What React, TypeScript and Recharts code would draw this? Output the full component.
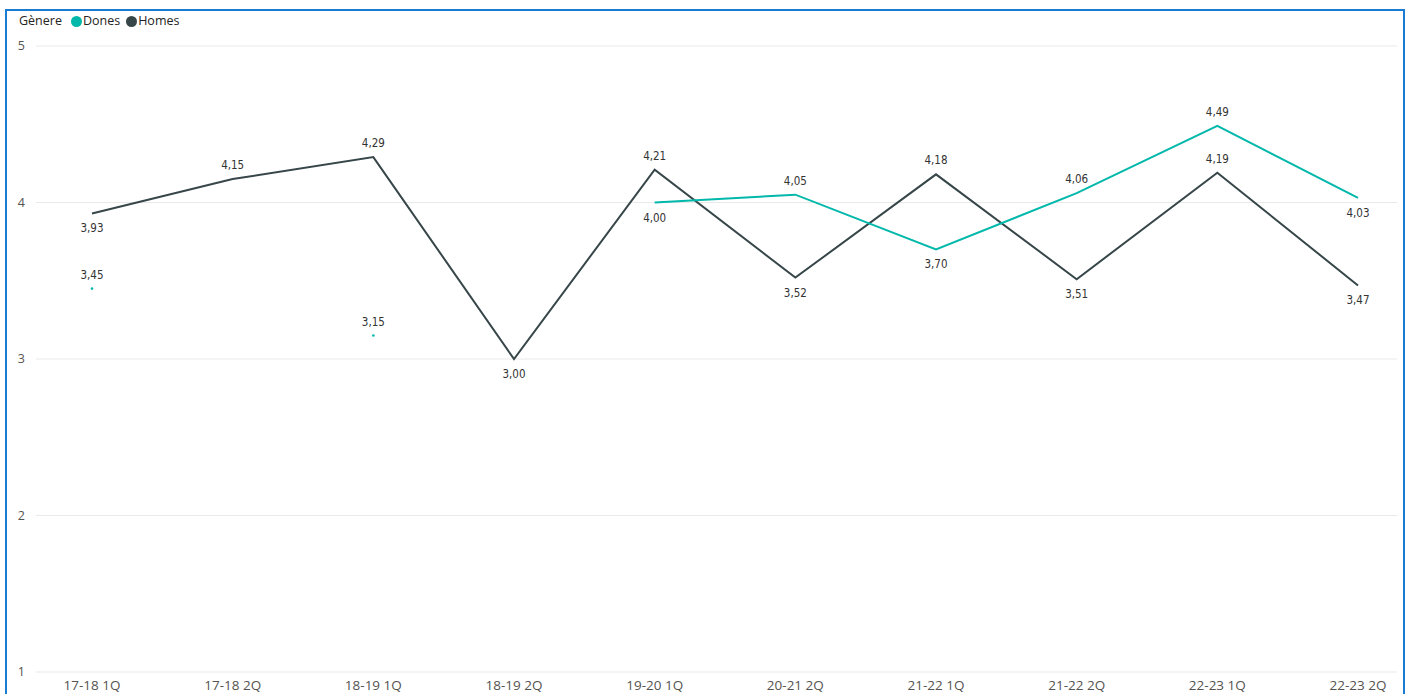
import React from 'react';
import { LineChart, Line, XAxis, YAxis, CartesianGrid } from 'recharts';

const periods = [
  '17-18 1Q',
  '17-18 2Q',
  '18-19 1Q',
  '18-19 2Q',
  '19-20 1Q',
  '20-21 2Q',
  '21-22 1Q',
  '21-22 2Q',
  '22-23 1Q',
  '22-23 2Q',
];
const dones: (number | null)[] = [3.45, null, 3.15, null, 4.0, 4.05, 3.7, 4.06, 4.49, 4.03];
const homes: (number | null)[] = [3.93, 4.15, 4.29, 3.0, 4.21, 3.52, 4.18, 3.51, 4.19, 3.47];
const yTicks = [1, 2, 3, 4, 5];

const DONES_COLOR = '#01B8AA';
const HOMES_COLOR = '#374649';
const UI_FONT = "'Open Sans', 'Noto Sans', sans-serif";
const LABEL_FONT = "'DejaVu Sans Condensed', 'Roboto', sans-serif";

const chartData = periods.map((p, i) => ({ period: p, Dones: dones[i], Homes: homes[i] }));

const fmt = (v: number) => v.toFixed(2).replace('.', ',');

// label goes under the point when it is a local low, otherwise above it
function labelBelow(values: (number | null)[], i: number) {
  const v = values[i] as number;
  const nb = [values[i - 1], values[i + 1]].filter((n) => n != null) as number[];
  return nb.length > 0 && nb.every((n) => v < n);
}

function makeLabel(values: (number | null)[]) {
  return (props: any) => {
    const { x, y, index, value } = props;
    if (value == null) return null;
    const below = labelBelow(values, index);
    return (
      <text
        key={`lbl-${index}`}
        x={x}
        y={below ? y + 15 : y - 14}
        textAnchor="middle"
        dominantBaseline="central"
        fontFamily={LABEL_FONT}
        fontSize={11.5}
        fill="#333333"
      >
        {fmt(Number(value))}
      </text>
    );
  };
}

// isolated values (no neighbours) show as a tiny dot, like the original
function makeDot(values: (number | null)[], color: string) {
  return (props: any) => {
    const { cx, cy, index } = props;
    const v = values[index];
    const isolated = v != null && values[index - 1] == null && values[index + 1] == null;
    if (!isolated || cx == null || cy == null) return <g key={`dot-${index}`} />;
    return <circle key={`dot-${index}`} cx={cx} cy={cy} r={1.3} fill={color} />;
  };
}

function LegendBox() {
  const item = (color: string, text: string) => (
    <span style={{ display: 'inline-flex', alignItems: 'center', marginLeft: 6 }}>
      <span
        style={{
          width: 11,
          height: 11,
          borderRadius: '50%',
          background: color,
          display: 'inline-block',
          marginRight: 1,
        }}
      />
      {text}
    </span>
  );
  return (
    <div
      style={{
        position: 'absolute',
        left: 19,
        top: 12,
        fontFamily: UI_FONT,
        fontSize: 12.5,
        color: '#252423',
        display: 'flex',
        alignItems: 'center',
        lineHeight: '18px',
      }}
    >
      <span style={{ marginRight: 3 }}>Gènere</span>
      {item(DONES_COLOR, 'Dones')}
      {item(HOMES_COLOR, 'Homes')}
    </div>
  );
}

export default function App() {
  return (
    <div
      style={{
        position: 'fixed',
        left: 0,
        top: 0,
        width: 1408,
        height: 694,
        background: '#fff',
        overflow: 'hidden',
      }}
    >
      <div
        style={{
          position: 'absolute',
          left: 5,
          top: 9,
          width: 1396,
          height: 720,
          border: '2px solid #1a7bd0',
        }}
      />
      <LegendBox />
      <div style={{ position: 'absolute', left: 0, top: 0 }}>
        <LineChart
          width={1408}
          height={694}
          data={chartData}
          margin={{ top: 46, right: 11, bottom: 0, left: 6 }}
        >
          <CartesianGrid vertical={false} stroke="#e9e9e9" />
          <XAxis
            dataKey="period"
            axisLine={false}
            tickLine={false}
            height={22}
            tickMargin={2}
            padding={{ left: 56, right: 39 }}
            interval={0}
            tick={{ fontFamily: UI_FONT, fontSize: 13.5, fill: '#555350' }}
          />
          <YAxis
            domain={[1, 5]}
            ticks={yTicks}
            width={30}
            axisLine={false}
            tickLine={false}
            tickMargin={5}
            tick={{ fontFamily: UI_FONT, fontSize: 12.5, fill: '#555350' }}
          />
          <Line
            type="linear"
            dataKey="Homes"
            stroke={HOMES_COLOR}
            strokeWidth={2}
            dot={false}
            activeDot={false}
            isAnimationActive={false}
            label={makeLabel(homes)}
          />
          <Line
            type="linear"
            dataKey="Dones"
            stroke={DONES_COLOR}
            strokeWidth={2}
            dot={makeDot(dones, DONES_COLOR)}
            activeDot={false}
            isAnimationActive={false}
            label={makeLabel(dones)}
          />
        </LineChart>
      </div>
    </div>
  );
}
